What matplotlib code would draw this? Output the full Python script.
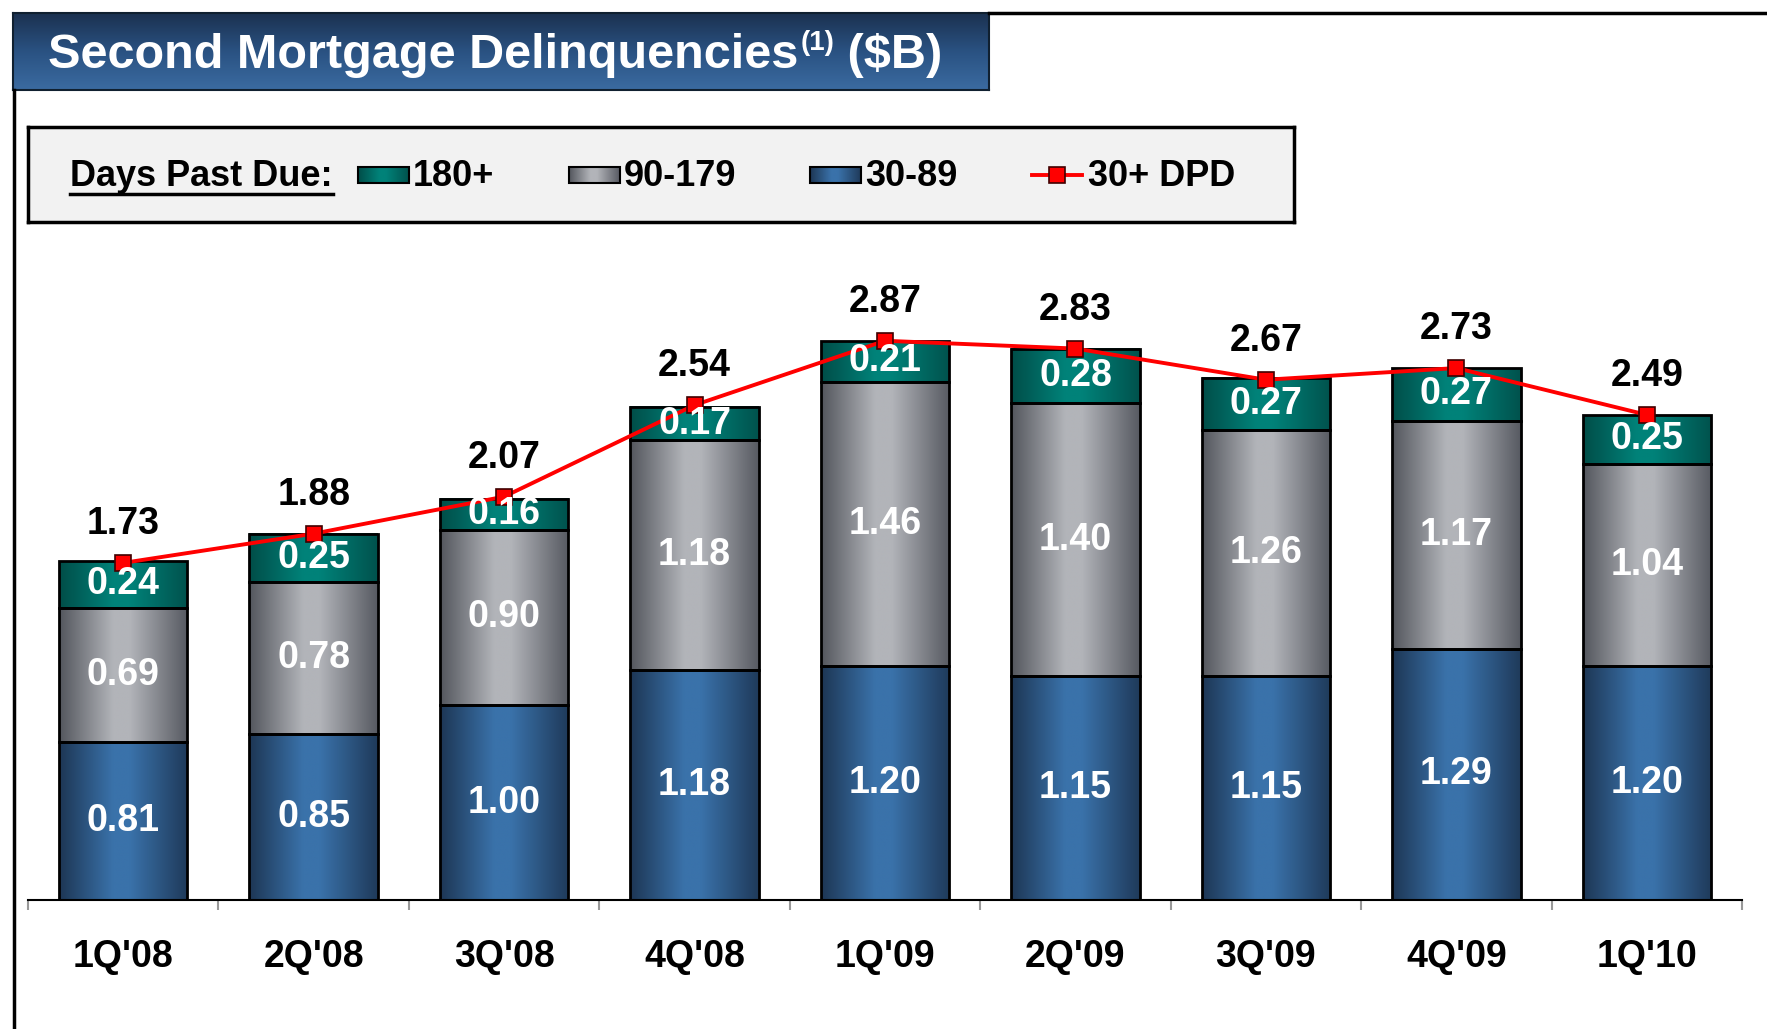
import numpy as np
import matplotlib
matplotlib.use('Agg')
import matplotlib.pyplot as plt
from matplotlib.colors import LinearSegmentedColormap
from matplotlib.lines import Line2D

quarters = ["1Q'08", "2Q'08", "3Q'08", "4Q'08", "1Q'09", "2Q'09", "3Q'09", "4Q'09", "1Q'10"]
dpd_30_89 = [0.81, 0.85, 1.00, 1.18, 1.20, 1.15, 1.15, 1.29, 1.20]
dpd_90_179 = [0.69, 0.78, 0.90, 1.18, 1.46, 1.40, 1.26, 1.17, 1.04]
dpd_180 = [0.24, 0.25, 0.16, 0.17, 0.21, 0.28, 0.27, 0.27, 0.25]
dpd_total = [1.73, 1.88, 2.07, 2.54, 2.87, 2.83, 2.67, 2.73, 2.49]

plt.rcParams['font.family'] = ['Liberation Sans', 'DejaVu Sans']
plt.rcParams['font.weight'] = 'bold'

W, H = 1767, 1029
fig = plt.figure(figsize=(W / 100, H / 100), dpi=100)


def grad_cmap(dark, light, dark2):
    return LinearSegmentedColormap.from_list('g', [(0, dark), (0.42, light), (0.55, light), (1, dark2)])


blue_cm = grad_cmap('#1d3654', '#3a72aa', '#1f3a5a')
gray_cm = grad_cmap('#53565d', '#b2b4b9', '#575a62')
teal_cm = grad_cmap('#004d48', '#008279', '#00524d')
ramp = np.linspace(0, 1, 256)[np.newaxis, :]


def fill_gradient(ax, patches, cmap):
    for p in patches:
        x0, y0 = p.get_xy()
        ax.imshow(ramp, extent=[x0, x0 + p.get_width(), y0, y0 + p.get_height()],
                  cmap=cmap, aspect='auto', zorder=1, interpolation='bilinear')


# main axes
ax = fig.add_axes([28 / W, 129 / H, 1714 / W, 682 / H])
x = np.arange(len(quarters))
bw = 0.675
b1 = np.array(dpd_30_89)
b2 = b1 + np.array(dpd_90_179)

bars1 = ax.bar(x, dpd_30_89, width=bw, facecolor='none', edgecolor='black', linewidth=2, zorder=2)
bars2 = ax.bar(x, dpd_90_179, bottom=b1, width=bw, facecolor='none', edgecolor='black', linewidth=2, zorder=2)
bars3 = ax.bar(x, dpd_180, bottom=b2, width=bw, facecolor='none', edgecolor='black', linewidth=2, zorder=2)
fill_gradient(ax, bars1, blue_cm)
fill_gradient(ax, bars2, gray_cm)
fill_gradient(ax, bars3, teal_cm)

ax.plot(x, dpd_total, color='#ff0000', lw=2.8, marker='s', ms=11, mfc='#ff0000', mec='#400000', mew=1.2, zorder=4)

fs = 27
for i in range(len(x)):
    ax.text(x[i], dpd_30_89[i] / 2, f'{dpd_30_89[i]:.2f}', ha='center', va='center',
            color='white', fontsize=fs, fontweight='bold', zorder=5)
    ax.text(x[i], b1[i] + dpd_90_179[i] / 2, f'{dpd_90_179[i]:.2f}', ha='center', va='center',
            color='white', fontsize=fs, fontweight='bold', zorder=5)
    ax.text(x[i], b2[i] + dpd_180[i] / 2, f'{dpd_180[i]:.2f}', ha='center', va='center',
            color='white', fontsize=fs, fontweight='bold', zorder=5)
    ax.text(x[i], dpd_total[i] + 0.2, f'{dpd_total[i]:.2f}', ha='center', va='center',
            color='black', fontsize=fs, fontweight='bold', zorder=5)

ax.set_xlim(-0.5, len(x) - 0.5)
ax.set_ylim(0, 3.5)
for s in ['top', 'right', 'left']:
    ax.spines[s].set_visible(False)
ax.spines['bottom'].set_linewidth(1.5)
ax.set_yticks([])
ax.set_xticks(x)
ax.set_xticklabels(quarters, fontsize=fs, fontweight='bold')
ax.tick_params(axis='x', which='major', length=0, pad=28)
ax.set_xticks(np.arange(-0.5, len(x)), minor=True)
ax.tick_params(axis='x', which='minor', length=7, color='#999999', width=1.5)
ax.patch.set_alpha(0)

# frame lines
fig.add_artist(Line2D([989 / W, 1], [1 - 13 / H, 1 - 13 / H], color='black', lw=2.5))
fig.add_artist(Line2D([14 / W, 14 / W], [0, 1 - 90 / H], color='black', lw=2.5))

# title bar
tax = fig.add_axes([13 / W, 1 - 90 / H, 976 / W, 77 / H])
tax.imshow(np.linspace(0, 1, 256)[:, np.newaxis],
           cmap=LinearSegmentedColormap.from_list('t', ['#1b3150', '#2a5282', '#3b6ba1']),
           aspect='auto', extent=[0, 1, 0, 1], interpolation='bilinear')
tax.set_xlim(0, 1)
tax.set_ylim(0, 1)
tax.set_xticks([])
tax.set_yticks([])
for s in tax.spines.values():
    s.set_linewidth(1.5)
    s.set_color('#102030')

t1 = fig.text(48 / W, 1 - 55 / H, 'Second Mortgage Delinquencies', color='white',
              fontsize=35, fontweight='bold', va='center')
fig.canvas.draw()
r = fig.canvas.get_renderer()
bb = t1.get_window_extent(r)
t2 = fig.text(bb.x1 / W + 2 / W, 1 - 43 / H, '(1)', color='white', fontsize=20, fontweight='bold', va='center')
bb2 = t2.get_window_extent(r)
fig.text(bb2.x1 / W, 1 - 55 / H, ' ($B)', color='white', fontsize=35, fontweight='bold', va='center')

# legend box
lx0, ly0, lx1, ly1 = 28, 127, 1294, 222
lax = fig.add_axes([lx0 / W, 1 - ly1 / H, (lx1 - lx0) / W, (ly1 - ly0) / H])
lax.set_xlim(0, lx1 - lx0)
lax.set_ylim(0, ly1 - ly0)
lax.set_facecolor('#f2f2f2')
lax.set_xticks([])
lax.set_yticks([])
for s in lax.spines.values():
    s.set_linewidth(2.5)
    s.set_color('black')

ty = 45
lt = lax.text(42, ty, 'Days Past Due:', fontsize=26, fontweight='bold', va='center', ha='left')
fig.canvas.draw()
lbb = lt.get_window_extent(r).transformed(lax.transData.inverted())
lax.plot([lbb.x0, lbb.x1], [lbb.y0 + 1, lbb.y0 + 1], color='black', lw=2.5)

swatches = [(330, teal_cm, '180+'), (541, gray_cm, '90-179'), (782, blue_cm, '30-89')]
for sx, cm, lab in swatches:
    lax.imshow(ramp, extent=[sx, sx + 51, 39, 55], cmap=cm, aspect='auto', interpolation='bilinear')
    lax.add_patch(plt.Rectangle((sx, 39), 51, 16, fill=False, edgecolor='black', lw=1.5))
    lax.text(sx + 55, ty, lab, fontsize=26, fontweight='bold', va='center', ha='left')

lax.plot([1004, 1054], [47, 47], color='#ff0000', lw=2.8)
lax.plot([1029], [47], marker='s', ms=11, mfc='#ff0000', mec='#400000', mew=1.2)
lax.text(1060, ty, '30+ DPD', fontsize=26, fontweight='bold', va='center', ha='left')
lax.set_xlim(0, lx1 - lx0)
lax.set_ylim(0, ly1 - ly0)

fig.savefig('out.png', dpi=100)
